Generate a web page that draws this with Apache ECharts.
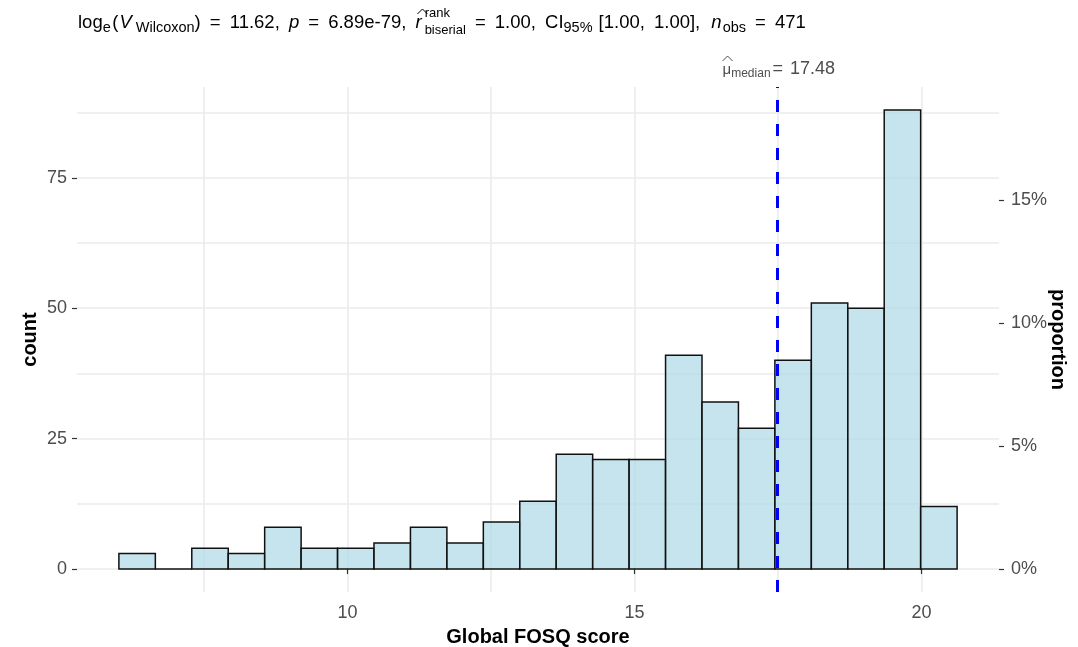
<!DOCTYPE html>
<html>
<head>
<meta charset="utf-8">
<script src="https://cdn.jsdelivr.net/npm/echarts@6/dist/echarts.min.js"></script>
<style>
  html, body { margin: 0; padding: 0; background: #fff; }
  #chart { width: 1078px; height: 647px; }
</style>
</head>
<body>
<div id="chart"></div>
<script>
// Histogram of Global FOSQ scores (one-sample Wilcoxon test summary on top)
const binStart = 6.016;
const binWidth = 0.635;
const binCounts = [3, 0, 4, 3, 8, 4, 4, 5, 8, 5, 9, 13, 22, 21, 21, 41, 32, 27, 40, 51, 50, 88, 12];
const nObs = 471;
const medianScore = 17.48;

const xTicks = [10, 15, 20];
const xMinorGrid = [7.5, 12.5, 17.5];
const countTicks = [0, 25, 50, 75];
const countMinorGrid = [12.5, 37.5, 62.5, 87.5];
const proportionTicks = [0, 0.05, 0.10, 0.15];
const xRange = [5.286, 21.351];
const countRange = [-4.4, 92.4];

const FONT = '"Liberation Sans", Arial, Helvetica, sans-serif';
const TICK_TEXT = '#4d4d4d';
const TICK_LINE = '#333333';
const GRID_LINE = '#ebebeb';
const TITLE_STYLE = { fontFamily: FONT, fontWeight: 'bold', fontSize: 20, color: '#000' };

// histogram bins: [left edge, right edge, count]
const bins = binCounts.map((c, i) => [binStart + i * binWidth, binStart + (i + 1) * binWidth, c]);

const chart = echarts.init(document.getElementById('chart'), null, { renderer: 'canvas' });

const option = {
  animation: false,
  backgroundColor: '#ffffff',
  textStyle: { fontFamily: FONT },
  grid: { left: 77, right: 79, top: 87, bottom: 55, containLabel: false, outerBoundsMode: 'none' },
  xAxis: [
    {
      type: 'value', position: 'bottom',
      min: xRange[0], max: xRange[1],
      name: 'Global FOSQ score', nameLocation: 'middle', nameGap: 35, nameMoveOverlap: false,
      nameTextStyle: TITLE_STYLE,
      axisLine: { show: false },
      axisTick: { show: true, length: 5, customValues: xTicks, lineStyle: { color: TICK_LINE, width: 1.2 } },
      axisLabel: { customValues: xTicks, margin: 12, fontSize: 18, color: TICK_TEXT, fontFamily: FONT },
      splitLine: { show: false }
    },
    {
      type: 'value', position: 'top',
      min: xRange[0], max: xRange[1],
      axisLine: { show: false },
      axisTick: { show: true, length: 5, customValues: [medianScore], lineStyle: { color: TICK_LINE, width: 1.2 } },
      axisLabel: { show: false },
      splitLine: { show: false }
    }
  ],
  yAxis: [
    {
      type: 'value', position: 'left',
      min: countRange[0], max: countRange[1],
      name: 'count', nameLocation: 'middle', nameGap: 37, nameMoveOverlap: false,
      nameTextStyle: TITLE_STYLE,
      axisLine: { show: false },
      axisTick: { show: true, length: 5, customValues: countTicks, lineStyle: { color: TICK_LINE, width: 1.2 } },
      axisLabel: { customValues: countTicks, margin: 10, fontSize: 18, color: TICK_TEXT, fontFamily: FONT },
      splitLine: { show: false }
    },
    {
      type: 'value', position: 'right',
      min: countRange[0] / nObs, max: countRange[1] / nObs,
      name: 'proportion', nameLocation: 'middle', nameGap: 49, nameRotate: -90, nameMoveOverlap: false,
      nameTextStyle: TITLE_STYLE,
      axisLine: { show: false },
      axisTick: { show: true, length: 5, customValues: proportionTicks, lineStyle: { color: TICK_LINE, width: 1.2 } },
      axisLabel: {
        customValues: proportionTicks, margin: 12, fontSize: 18, color: TICK_TEXT, fontFamily: FONT,
        formatter: v => Math.round(v * 100) + '%'
      },
      splitLine: { show: false }
    }
  ],
  series: [
    {
      // panel grid lines
      type: 'line', data: [], xAxisIndex: 0, yAxisIndex: 0, z: 0, silent: true,
      markLine: {
        z: 0, silent: true, symbol: ['none', 'none'], label: { show: false },
        lineStyle: { color: GRID_LINE, width: 1.6, type: 'solid' },
        emphasis: { disabled: true },
        data: [
          ...xTicks.map(v => ({ xAxis: v })),
          ...xMinorGrid.map(v => ({ xAxis: v })),
          ...countTicks.map(v => ({ yAxis: v })),
          ...countMinorGrid.map(v => ({ yAxis: v }))
        ]
      }
    },
    {
      // histogram bars
      type: 'custom', xAxisIndex: 0, yAxisIndex: 0, z: 2, silent: true,
      data: bins,
      encode: { x: [0, 1], y: 2 },
      renderItem: (params, api) => {
        const top = api.coord([api.value(0), api.value(2)]);
        const base = api.coord([api.value(1), 0]);
        return {
          type: 'rect',
          shape: { x: top[0], y: top[1], width: base[0] - top[0], height: base[1] - top[1] },
          style: { fill: 'rgba(173,216,230,0.7)', stroke: '#111111', lineWidth: 1.5 }
        };
      }
    },
    {
      // median reference line
      type: 'line', data: [], xAxisIndex: 0, yAxisIndex: 0, z: 10, silent: true,
      markLine: {
        z: 10, silent: true, symbol: ['none', 'none'], label: { show: false },
        lineStyle: { color: '#0000ff', width: 3, type: [12, 12] },
        emphasis: { disabled: true },
        data: [{ xAxis: medianScore }]
      }
    }
  ]
};

chart.setOption(option);

// ---- text with plotmath-like sub/superscripts ----
const measureCtx = document.createElement('canvas').getContext('2d');
function textWidth(t, size, italic) {
  measureCtx.font = (italic ? 'italic ' : '') + size + 'px ' + FONT;
  return measureCtx.measureText(t).width;
}
function textEl(t, x, baseline, size, italic, color) {
  return {
    type: 'text', x: x, y: baseline - 0.3465 * size, silent: true,
    style: {
      text: t, fontSize: size, fontFamily: FONT, fontStyle: italic ? 'italic' : 'normal',
      fill: color, align: 'left', verticalAlign: 'middle'
    }
  };
}
function hatEl(x, yTop, w, color) {
  return {
    type: 'polyline', silent: true,
    shape: { points: [[x, yTop + 5], [x + w / 2, yTop], [x + w, yTop + 5]] },
    style: { stroke: color, lineWidth: 1, fill: null }
  };
}
function layout(segs, x0, baseline, color) {
  const els = [];
  let x = x0;
  segs.forEach(s => {
    if (s.stack) {
      let wMax = 0;
      s.stack.forEach(p => {
        els.push(textEl(p.t, x, baseline + p.dy, p.size, false, color));
        wMax = Math.max(wMax, textWidth(p.t, p.size, false));
      });
      x += wMax + (s.after || 0);
    } else {
      const w = textWidth(s.t, s.size, s.italic);
      els.push(textEl(s.t, x, baseline + (s.dy || 0), s.size, s.italic, color));
      if (s.hat) els.push(hatEl(x + s.hat.dx, baseline + s.hat.dy, s.hat.w, color));
      x += w + (s.after || 0);
    }
  });
  return { els, width: x - x0 };
}

const M = 18.5, S = 14.5, G = 9.1;
const titleSegs = [
  { t: 'log', size: M },
  { t: 'e', size: S, dy: 4, after: 1.5 },
  { t: '(', size: M, after: 1 },
  { t: 'V', size: M, italic: true, after: 4 },
  { t: 'Wilcoxon', size: S, dy: 4 },
  { t: ')', size: M, after: G },
  { t: '=', size: M, after: G },
  { t: '11.62,', size: M, after: G },
  { t: 'p', size: M, italic: true, after: G },
  { t: '=', size: M, after: G },
  { t: '6.89e-79,', size: M, after: G },
  { t: 'r', size: M, italic: true, after: 3, hat: { dx: 2, dy: -20, w: 10 } },
  { stack: [{ t: 'rank', size: 13, dy: -11 }, { t: 'biserial', size: 13, dy: 6 }], after: G },
  { t: '=', size: M, after: G },
  { t: '1.00,', size: M, after: G },
  { t: 'CI', size: M },
  { t: '95%', size: S, dy: 4, after: 6 },
  { t: '[1.00,', size: M, after: G },
  { t: '1.00],', size: M, after: G + 2 },
  { t: 'n', size: M, italic: true, after: 1 },
  { t: 'obs', size: S, dy: 4, after: G },
  { t: '=', size: M, after: G },
  { t: '471', size: M }
];
const title = layout(titleSegs, 78, 29, '#000000');

const medianSegs = [
  { t: '\u03bc', size: 15, hat: { dx: 0, dy: -19, w: 10 } },
  { t: 'median', size: 12, dy: 3, after: 2 },
  { t: '=', size: 18, after: 7 },
  { t: '17.48', size: 18 }
];
const medX = chart.convertToPixel({ xAxisIndex: 0 }, medianScore);
const medW = layout(medianSegs, 0, 75, '#4d4d4d').width;
const medLabel = layout(medianSegs, medX - medW / 2 + 2, 75, '#4d4d4d');

chart.setOption({ graphic: { elements: title.els.concat(medLabel.els) } });
</script>
</body>
</html>
